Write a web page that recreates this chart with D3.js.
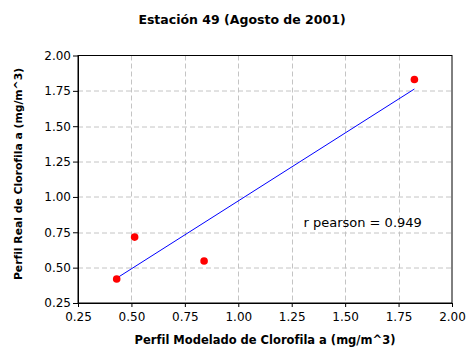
<!DOCTYPE html>
<html lang="es">
<head>
<meta charset="utf-8">
<title>Estación 49</title>
<script src="https://d3js.org/d3.v7.min.js"></script>
<style>
  body { margin: 0; background: #fff; }
  svg { font-family: "DejaVu Sans", Verdana, sans-serif; }
</style>
</head>
<body>
<script>
// datos
var modelado = [0.431, 0.515, 0.840, 1.824];   // eje x
var real     = [0.420, 0.716, 0.547, 1.830];   // eje y
var xTicks = [0.25, 0.50, 0.75, 1.00, 1.25, 1.50, 1.75, 2.00];
var yTicks = [0.25, 0.50, 0.75, 1.00, 1.25, 1.50, 1.75, 2.00];
var rLabel = "r pearson = 0.949";

var W = 466, H = 348,
    margin = {top: 55.5, right: 14, bottom: 45, left: 78},
    width = W - margin.left - margin.right,
    height = H - margin.top - margin.bottom;

var svg = d3.select("body").append("svg")
    .attr("width", W)
    .attr("height", H);

var g = svg.append("g")
    .attr("transform", "translate(" + margin.left + "," + margin.top + ")");

var x = d3.scaleLinear().domain([0.25, 2.0]).range([0, width]);
var y = d3.scaleLinear().domain([0.25, 2.0]).range([height, 0]);

// grid
g.append("g").selectAll("line")
    .data(xTicks.slice(1, -1))
    .enter().append("line")
    .attr("x1", function(d) { return Math.round(x(d)) + 0.5; })
    .attr("x2", function(d) { return Math.round(x(d)) + 0.5; })
    .attr("y1", 0).attr("y2", height)
    .attr("stroke", "#c4c4c4")
    .attr("stroke-dasharray", "5,3");

g.append("g").selectAll("line")
    .data(yTicks.slice(1, -1))
    .enter().append("line")
    .attr("y1", function(d) { return Math.round(y(d)) + 0.5; })
    .attr("y2", function(d) { return Math.round(y(d)) + 0.5; })
    .attr("x1", 0).attr("x2", width)
    .attr("stroke", "#c4c4c4")
    .attr("stroke-dasharray", "5,3");

// axes
var xAxis = g.append("g")
    .attr("transform", "translate(0," + height + ")")
    .call(d3.axisBottom(x).tickValues(xTicks).tickFormat(d3.format(".2f")).tickSize(4).tickSizeOuter(0));
var yAxis = g.append("g")
    .call(d3.axisLeft(y).tickValues(yTicks).tickFormat(d3.format(".2f")).tickSize(5).tickSizeOuter(0));

svg.selectAll(".tick text")
    .attr("font-family", "'DejaVu Sans', Verdana, sans-serif")
    .attr("font-size", 12)
    .attr("fill", "#000");
xAxis.selectAll(".tick text").attr("dy", "0.95em");
yAxis.selectAll(".tick text").attr("x", -7);
svg.selectAll(".domain").attr("stroke", "#000");

// frame
g.append("rect")
    .attr("x", 0).attr("y", 0)
    .attr("width", width).attr("height", height)
    .attr("fill", "none")
    .attr("stroke", "#000");

// linear fit
var data = modelado.map(function(d, i) { return {x: d, y: real[i]}; });
var mx = d3.mean(modelado), my = d3.mean(real);
var sxy = d3.sum(data, function(d) { return (d.x - mx) * (d.y - my); });
var sxx = d3.sum(data, function(d) { return (d.x - mx) * (d.x - mx); });
var slope = sxy / sxx, icpt = my - slope * mx;
var ext = d3.extent(modelado);

g.append("line")
    .attr("x1", x(ext[0])).attr("y1", y(icpt + slope * ext[0]))
    .attr("x2", x(ext[1])).attr("y2", y(icpt + slope * ext[1]))
    .attr("stroke", "#0000ff")
    .attr("stroke-width", 1);

g.selectAll(".dot")
    .data(data)
    .enter().append("circle")
    .attr("class", "dot")
    .attr("cx", function(d) { return x(d.x); })
    .attr("cy", function(d) { return y(d.y); })
    .attr("r", 3.8)
    .attr("fill", "#ff0000");

g.append("text")
    .attr("x", x(1.305))
    .attr("y", y(0.79))
    .attr("font-size", 13)
    .text(rLabel);

// titles
svg.append("text")
    .attr("x", 242).attr("y", 24)
    .attr("text-anchor", "middle")
    .attr("font-size", 12.5)
    .attr("font-weight", "bold")
    .text("Estación 49 (Agosto de 2001)");

svg.append("text")
    .attr("x", margin.left + width / 2).attr("y", 344)
    .attr("text-anchor", "middle")
    .attr("font-size", 11.5)
    .attr("font-weight", "bold")
    .text("Perfil Modelado de Clorofila a (mg/m^3)");

svg.append("text")
    .attr("transform", "translate(22,174) rotate(-90)")
    .attr("text-anchor", "middle")
    .attr("font-size", 10.8)
    .attr("font-weight", "bold")
    .text("Perfil Real de Clorofila a (mg/m^3)");
</script>
</body>
</html>
